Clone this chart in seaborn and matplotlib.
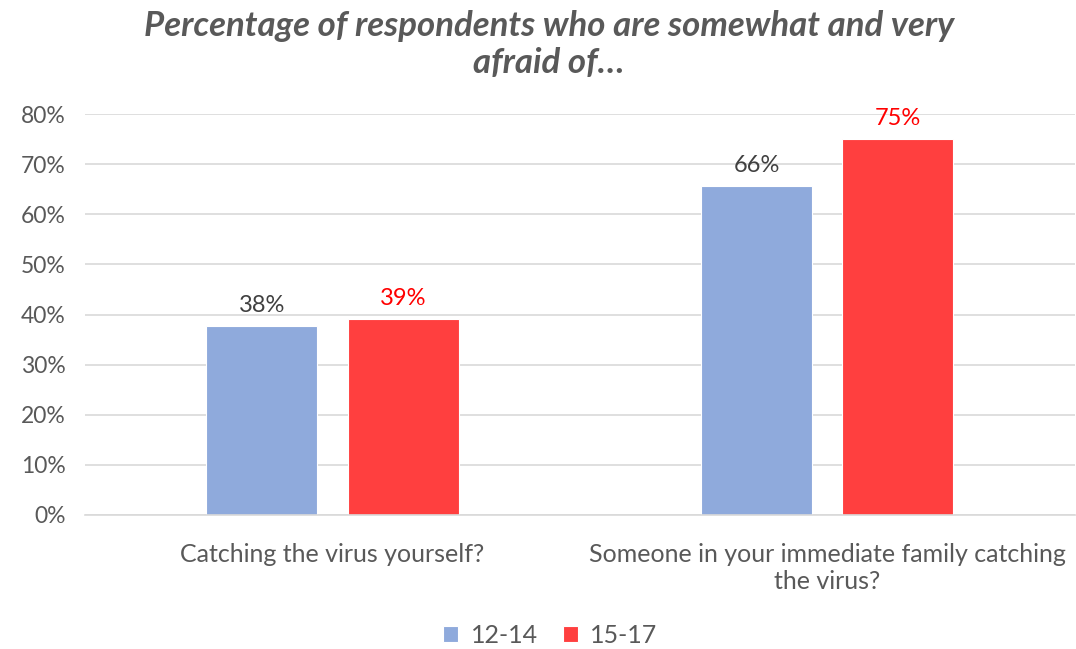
import matplotlib
matplotlib.use("Agg")
import matplotlib.pyplot as plt
import seaborn as sns
import pandas as pd
from matplotlib.ticker import PercentFormatter

# Data
categories = ["Catching the virus yourself?",
              "Someone in your immediate family catching\nthe virus?"]
age_groups = ["12-14", "15-17"]
values_12_14 = [0.377, 0.657]
values_15_17 = [0.391, 0.750]
y_ticks = [0, 0.1, 0.2, 0.3, 0.4, 0.5, 0.6, 0.7, 0.8]

colors = {"12-14": "#8FAADC", "15-17": "#FF3F3F"}
label_colors = {"12-14": "#404040", "15-17": "#FF0000"}

df = pd.DataFrame({
    "category": categories * 2,
    "group": [age_groups[0]] * 2 + [age_groups[1]] * 2,
    "value": values_12_14 + values_15_17,
})

sns.set_style("white")
plt.rcParams["font.family"] = ["Lato", "DejaVu Sans"]

fig = plt.figure(figsize=(10.76, 6.49), dpi=100)
ax = fig.add_axes([0.079, 0.2065, 0.92, 0.6178])

sns.barplot(data=df, x="category", y="value", hue="group", order=categories,
            hue_order=age_groups, palette=colors, saturation=1, width=0.57,
            gap=0.213, edgecolor="white", linewidth=0.8, ax=ax, legend=True)

ax.set_ylim(0, 0.8)
ax.set_xlim(-0.5, 1.5)
ax.set_yticks(y_ticks)
ax.yaxis.set_major_formatter(PercentFormatter(1.0, decimals=0))
ax.grid(axis="y", color="#D9D9D9", linewidth=1.2)
ax.set_axisbelow(True)
for s in ["top", "right", "left"]:
    ax.spines[s].set_visible(False)
ax.spines["bottom"].set_color("#D9D9D9")
ax.spines["bottom"].set_linewidth(1.2)
ax.tick_params(axis="y", length=0, labelsize=16.5, colors="#595959", pad=14)
ax.tick_params(axis="x", length=0, labelsize=18, colors="#595959", pad=20)
ax.set_xlabel("")
ax.set_ylabel("")

for cont, grp in zip(ax.containers, age_groups):
    ax.bar_label(cont, labels=[f"{v * 100:.0f}%" for v in cont.datavalues],
                 padding=7, fontsize=17, color=label_colors[grp])

ax.legend(loc="center", bbox_to_anchor=(0.47, -0.30), ncol=2, frameon=False,
          fontsize=18, labelcolor="#595959", handlelength=0.6, handleheight=0.6,
          columnspacing=1.0, handletextpad=0.5)

fig.suptitle("Percentage of respondents who are somewhat and very\nafraid of…",
             x=0.51, y=0.985, fontsize=25, fontweight="bold", fontstyle="italic",
             color="#595959", linespacing=1.2)

fig.savefig("out.png", dpi=100)
